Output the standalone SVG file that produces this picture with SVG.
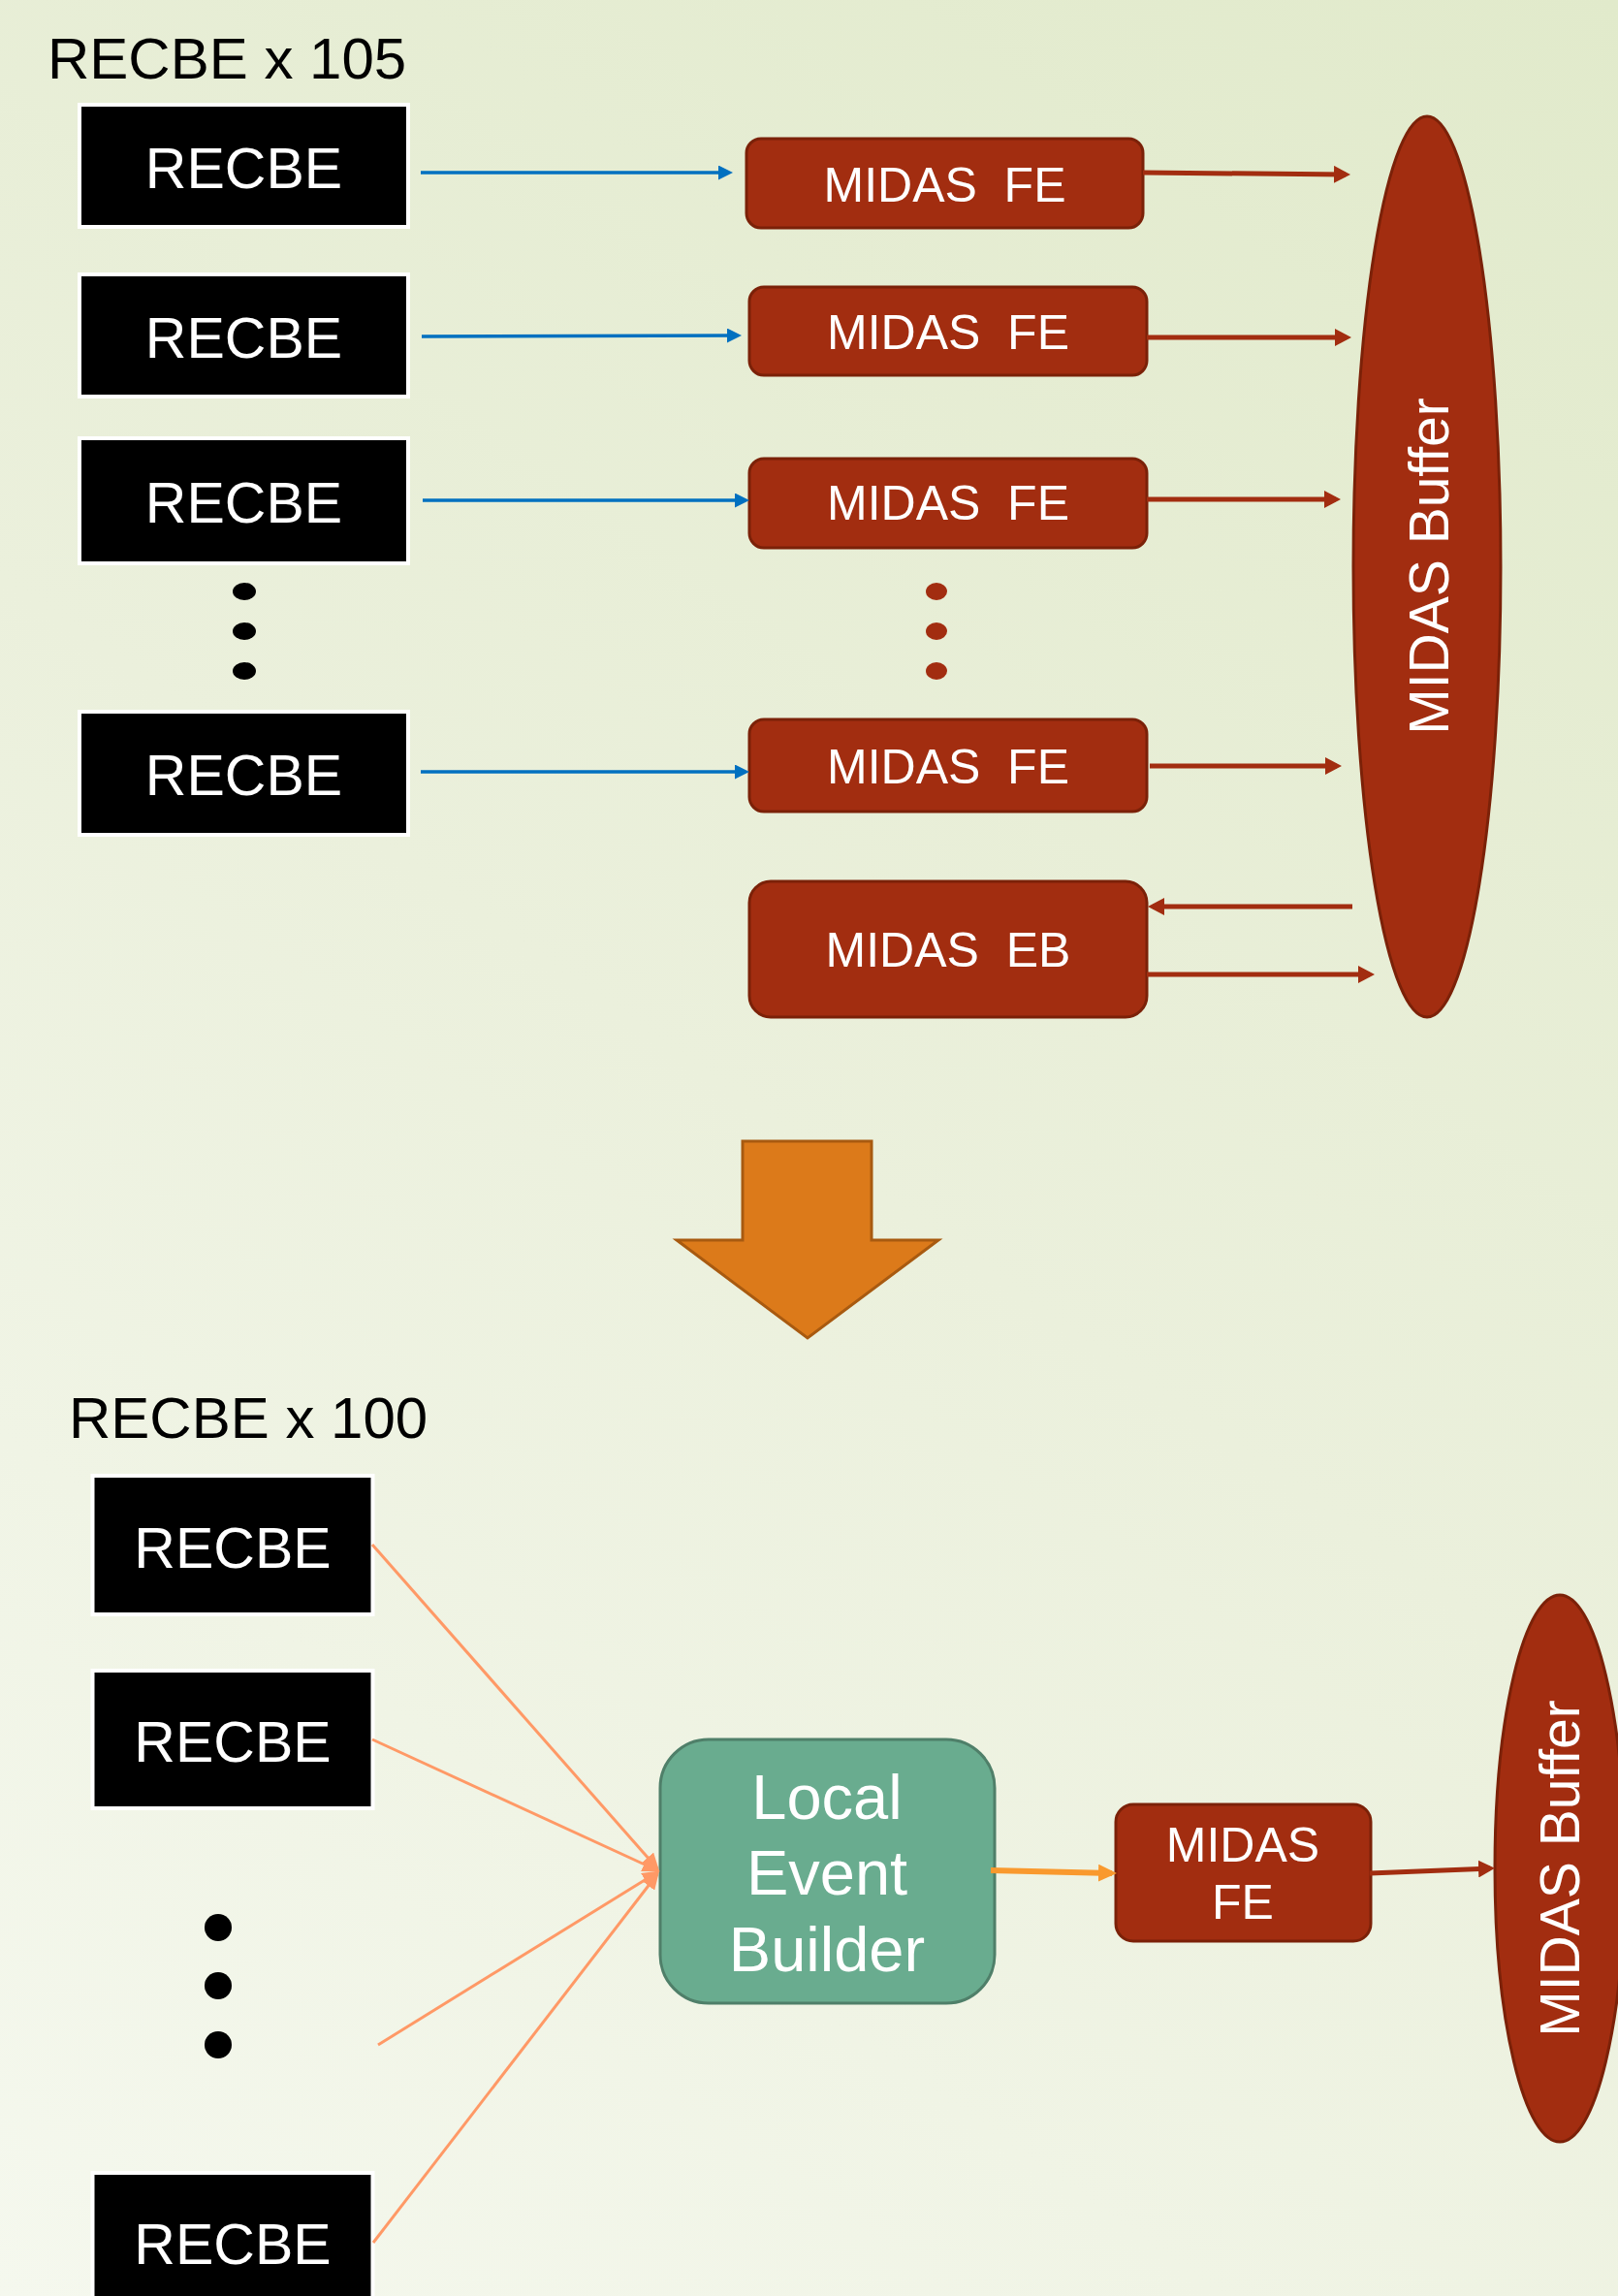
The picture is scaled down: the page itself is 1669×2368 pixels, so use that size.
<svg xmlns="http://www.w3.org/2000/svg" width="1669" height="2368" viewBox="0 0 1669 2368">
  <defs>
    <linearGradient id="bg" gradientUnits="userSpaceOnUse" x1="1669" y1="0" x2="0" y2="2368">
      <stop offset="0" stop-color="#E1EACB"/>
      <stop offset="0.5" stop-color="#EBF0DC"/>
      <stop offset="1" stop-color="#F5F8EE"/>
    </linearGradient>
    <marker id="ah-blue" markerUnits="userSpaceOnUse" viewBox="0 0 15 15" markerWidth="15" markerHeight="15" refX="11" refY="7.5" orient="auto">
      <path d="M0,0 L15,7.5 L0,15 Z" fill="#0070C0"/>
    </marker>
    <marker id="ah-brown" markerUnits="userSpaceOnUse" viewBox="0 0 17 18" markerWidth="17" markerHeight="18" refX="12" refY="9" orient="auto">
      <path d="M0,0 L17,9 L0,18 Z" fill="#A22D10"/>
    </marker>
    <marker id="ah-orange" markerUnits="userSpaceOnUse" viewBox="0 0 19 18" markerWidth="19" markerHeight="18" refX="14" refY="9" orient="auto">
      <path d="M0,0 L19,9 L0,18 Z" fill="#F9992E"/>
    </marker>
    <marker id="ah-salmon" markerUnits="userSpaceOnUse" viewBox="0 0 18 16" markerWidth="18" markerHeight="16" refX="15" refY="8" orient="auto">
      <path d="M0,0 L18,8 L0,16 Z" fill="#FF9966"/>
    </marker>
  </defs>
  <style>
    .recbe rect { fill: #000; stroke: #fff; stroke-width: 4; }
    .lbl { font-family: "Liberation Sans", Arial, sans-serif; fill: #fff; text-anchor: middle; }
    .recbe text { font-size: 59px; }
    .head { font-family: "Liberation Sans", Arial, sans-serif; font-size: 60px; fill: #000; }
    .fe rect { fill: #A22D10; stroke: #7B2108; stroke-width: 3; }
    .fe text { font-size: 50px; white-space: pre; }
    .buf ellipse { fill: #A22D10; stroke: #7B2108; stroke-width: 3; }
    .buf text { font-size: 57px; }
    .leb rect { fill: #69AC8F; stroke: #4F7F69; stroke-width: 3; }
    .leb text { font-size: 65px; }
    .blue { stroke: #0070C0; stroke-width: 3.5; fill: none; marker-end: url(#ah-blue); }
    .brown { stroke: #A22D10; stroke-width: 5; fill: none; marker-end: url(#ah-brown); }
    .orange { stroke: #F9992E; stroke-width: 6; fill: none; marker-end: url(#ah-orange); }
    .salmon { stroke: #FF9966; stroke-width: 3; fill: none; marker-end: url(#ah-salmon); }
  </style>

  <rect x="0" y="0" width="1669" height="2368" fill="url(#bg)"/>

  <!-- ===== Upper scheme: one front end per RECBE ===== -->
  <text class="head" x="49" y="81">RECBE x 105</text>

  <g id="recbe-a1" class="recbe"><rect x="82" y="108" width="339" height="126"/><text class="lbl" x="251.5" y="194">RECBE</text></g>
  <g id="recbe-a2" class="recbe"><rect x="82" y="283" width="339" height="126"/><text class="lbl" x="251.5" y="369">RECBE</text></g>
  <g id="recbe-a3" class="recbe"><rect x="82" y="452" width="339" height="129"/><text class="lbl" x="251.5" y="539">RECBE</text></g>
  <g id="recbe-a4" class="recbe"><rect x="82" y="734" width="339" height="127"/><text class="lbl" x="251.5" y="820">RECBE</text></g>

  <g id="dots-a" fill="#000">
    <ellipse cx="252" cy="610" rx="12" ry="9"/>
    <ellipse cx="252" cy="651" rx="12" ry="9"/>
    <ellipse cx="252" cy="692" rx="12" ry="9"/>
  </g>

  <g id="fe-1" class="fe"><rect x="770" y="143" width="409" height="92" rx="15"/><text class="lbl" x="974.5" y="208">MIDAS  FE</text></g>
  <g id="fe-2" class="fe"><rect x="773" y="296" width="410" height="91" rx="15"/><text class="lbl" x="978" y="360">MIDAS  FE</text></g>
  <g id="fe-3" class="fe"><rect x="773" y="473" width="410" height="92" rx="15"/><text class="lbl" x="978" y="536">MIDAS  FE</text></g>
  <g id="fe-4" class="fe"><rect x="773" y="742" width="410" height="95" rx="15"/><text class="lbl" x="978" y="808">MIDAS  FE</text></g>
  <g id="eb" class="fe"><rect x="773" y="909" width="410" height="140" rx="22"/><text class="lbl" x="978" y="997">MIDAS  EB</text></g>

  <g id="dots-fe" fill="#A22D10">
    <ellipse cx="966" cy="610" rx="11" ry="9"/>
    <ellipse cx="966" cy="651" rx="11" ry="9"/>
    <ellipse cx="966" cy="692" rx="11" ry="9"/>
  </g>

  <g id="buffer-a" class="buf">
    <ellipse cx="1472" cy="584.5" rx="76" ry="464.5"/>
    <text class="lbl" transform="translate(1494,584) rotate(-90)" x="0" y="0">MIDAS Buffer</text>
  </g>

  <!-- ===== Transition arrow ===== -->
  <g id="big-arrow">
    <polygon points="766,1177 899,1177 899,1279 968,1279 833,1380 698,1279 766,1279" fill="#DC7A1A" stroke="#A85A10" stroke-width="3" stroke-linejoin="miter"/>
  </g>

  <!-- ===== Lower scheme: local event building ===== -->
  <text class="head" x="71" y="1483">RECBE x 100</text>

  <g id="recbe-b1" class="recbe"><rect x="95.5" y="1522" width="289" height="143"/><text class="lbl" x="240" y="1617">RECBE</text></g>
  <g id="recbe-b2" class="recbe"><rect x="95.5" y="1723" width="289" height="142"/><text class="lbl" x="240" y="1817">RECBE</text></g>
  <g id="recbe-b3" class="recbe"><rect x="95.5" y="2241" width="289" height="200"/><text class="lbl" x="240" y="2335">RECBE</text></g>

  <g id="dots-b" fill="#000">
    <circle cx="225" cy="1988" r="14"/>
    <circle cx="225" cy="2048" r="14"/>
    <circle cx="225" cy="2109" r="14"/>
  </g>

  <g id="leb" class="leb">
    <rect x="681" y="1794" width="345" height="272" rx="50"/>
    <text class="lbl" x="853" y="1876">Local</text>
    <text class="lbl" x="853" y="1954">Event</text>
    <text class="lbl" x="853" y="2033">Builder</text>
  </g>

  <g id="fe-b" class="fe">
    <rect x="1151" y="1861" width="263" height="141" rx="18"/>
    <text class="lbl" x="1282" y="1920">MIDAS</text>
    <text class="lbl" x="1282" y="1979">FE</text>
  </g>

  <g id="buffer-b" class="buf">
    <ellipse cx="1609" cy="1927" rx="67" ry="282"/>
    <text class="lbl" transform="translate(1629,1927) rotate(-90)" x="0" y="0">MIDAS Buffer</text>
  </g>

  <!-- ===== Connectors ===== -->
  <g id="connectors">
    <line class="blue" x1="434" y1="178" x2="752" y2="178"/>
    <line class="blue" x1="435" y1="347" x2="761" y2="346"/>
    <line class="blue" x1="436" y1="516" x2="769" y2="516"/>
    <line class="blue" x1="434" y1="796" x2="769" y2="796"/>

    <line class="brown" x1="1179" y1="178" x2="1388" y2="180"/>
    <line class="brown" x1="1183" y1="348" x2="1389" y2="348"/>
    <line class="brown" x1="1183" y1="515" x2="1378" y2="515"/>
    <line class="brown" x1="1186" y1="790" x2="1379" y2="790"/>
    <line class="brown" x1="1395" y1="935" x2="1189" y2="935"/>
    <line class="brown" x1="1183" y1="1005" x2="1413" y2="1005"/>

    <line class="salmon" x1="384" y1="1593" x2="678" y2="1927"/>
    <line class="salmon" x1="384" y1="1794" x2="678" y2="1929"/>
    <line class="salmon" x1="390" y1="2109" x2="678" y2="1931"/>
    <line class="salmon" x1="385" y1="2313" x2="678" y2="1933"/>

    <line class="orange" x1="1022" y1="1929" x2="1147" y2="1932"/>
    <line class="brown" x1="1413" y1="1932" x2="1537" y2="1927"/>
  </g>
</svg>
